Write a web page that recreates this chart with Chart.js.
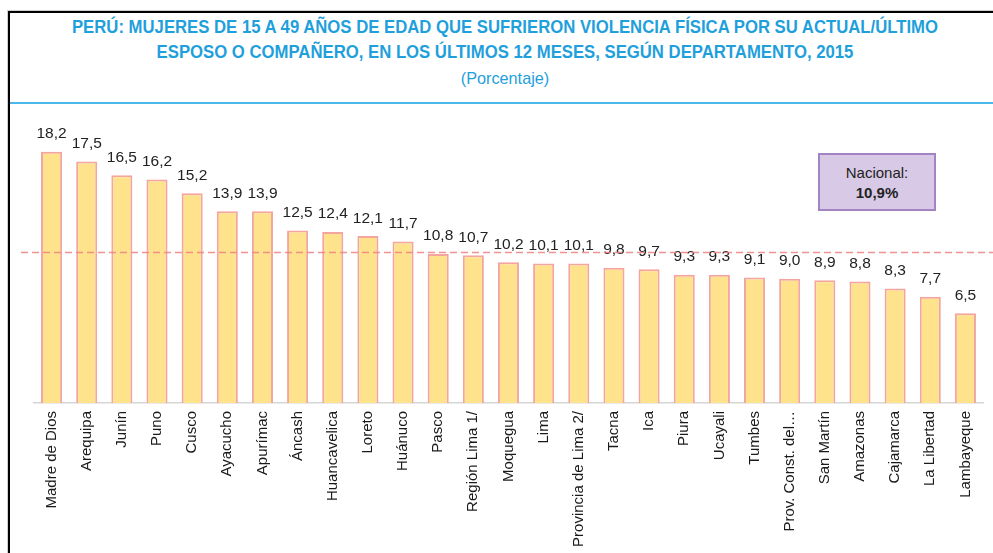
<!DOCTYPE html>
<html lang="es">
<head>
  <meta charset="UTF-8">
  <title>Violencia física por departamento, 2015</title>
  <script src="https://cdn.jsdelivr.net/npm/chart.js"></script>
  <style>
    body {
      margin: 0;
      width: 993px;
      height: 553px;
      overflow: hidden;
      background: #fff;
      position: relative;
      font-family: 'Liberation Sans', Arial, sans-serif;
    }
    .frame {
      position: absolute;
      left: 8px;
      top: 11px;
      width: 1020px;
      height: 600px;
      border-left: 2px solid #000;
      border-top: 2px solid #000;
      box-shadow: -1px -1px 0 #cfcfcf;
    }
    .rule {
      position: absolute;
      left: 10px;
      top: 102px;
      width: 990px;
      height: 2px;
      background: #4cb8ea;
    }
    .title {
      position: absolute;
      left: 0;
      width: 1010px;
      text-align: center;
      color: #1f9fdc;
      transform: scaleX(0.955);
      transform-origin: 505px 0;
      white-space: nowrap;
    }
    .t1 { top: 17px; font-weight: bold; font-size: 17.5px; }
    .t2 { top: 42px; font-weight: bold; font-size: 17.5px; }
    .t3 { top: 69px; font-size: 17px; }
    canvas {
      position: absolute;
      left: 0;
      top: 0;
    }
    .nacional {
      position: absolute;
      left: 818px;
      top: 153px;
      width: 114px;
      height: 46px;
      padding-top: 8px;
      background: #d8c9e6;
      border: 2px solid #a483c2;
      text-align: center;
      font-size: 15px;
      color: #222;
      line-height: 20px;
    }
  </style>
</head>
<body>
  <div class="frame"></div>
  <div class="rule"></div>
  <div class="title t1">PERÚ: MUJERES DE 15 A 49 AÑOS DE EDAD QUE SUFRIERON VIOLENCIA FÍSICA POR SU ACTUAL/ÚLTIMO</div>
  <div class="title t2">ESPOSO O COMPAÑERO, EN LOS ÚLTIMOS 12 MESES, SEGÚN DEPARTAMENTO, 2015</div>
  <div class="title t3">(Porcentaje)</div>

  <canvas id="chart" width="993" height="553"></canvas>

  <div class="nacional">Nacional:<br><b>10,9%</b></div>

  <script>
    const departamentos = [
      'Madre de Dios', 'Arequipa', 'Junín', 'Puno', 'Cusco', 'Ayacucho', 'Apurímac',
      'Áncash', 'Huancavelica', 'Loreto', 'Huánuco', 'Pasco', 'Región Lima 1/',
      'Moquegua', 'Lima', 'Provincia de Lima 2/', 'Tacna', 'Ica', 'Piura', 'Ucayali',
      'Tumbes', 'Prov. Const. del…', 'San Martín', 'Amazonas', 'Cajamarca',
      'La Libertad', 'Lambayeque'
    ];
    const porcentajes = [
      18.2, 17.5, 16.5, 16.2, 15.2, 13.9, 13.9, 12.5, 12.4, 12.1, 11.7, 10.8, 10.7,
      10.2, 10.1, 10.1, 9.8, 9.7, 9.3, 9.3, 9.1, 9.0, 8.9, 8.8, 8.3, 7.7, 6.5
    ];
    const nacional = 10.9;

    const fmt = v => v.toFixed(1).replace('.', ',');

    // etiquetas de valor encima de cada barra
    const valueLabels = {
      id: 'valueLabels',
      afterDatasetsDraw(chart) {
        const ctx = chart.ctx;
        const meta = chart.getDatasetMeta(0);
        ctx.save();
        ctx.font = '15.5px "Liberation Sans", Arial, sans-serif';
        ctx.fillStyle = '#222';
        ctx.textAlign = 'center';
        ctx.textBaseline = 'bottom';
        meta.data.forEach((bar, i) => {
          ctx.fillText(fmt(porcentajes[i]), bar.x, bar.y - 10);
        });
        ctx.restore();
      }
    };

    // línea punteada del promedio nacional
    const nationalLine = {
      id: 'nationalLine',
      afterDatasetsDraw(chart) {
        const ctx = chart.ctx;
        const y = chart.scales.y.getPixelForValue(nacional);
        ctx.save();
        ctx.strokeStyle = 'rgba(238,128,128,0.85)';
        ctx.lineWidth = 1.5;
        ctx.setLineDash([7, 4]);
        ctx.beginPath();
        ctx.moveTo(21, y);
        ctx.lineTo(chart.width, y);
        ctx.stroke();
        ctx.restore();
      }
    };

    new Chart(document.getElementById('chart'), {
      type: 'bar',
      data: {
        labels: departamentos,
        datasets: [{
          data: porcentajes,
          backgroundColor: '#fee38c',
          borderColor: '#f4a5a0',
          borderWidth: 2,
          barPercentage: 0.6,
          categoryPercentage: 1
        }]
      },
      options: {
        responsive: false,
        animation: false,
        layout: { padding: { top: 127, left: 34, right: 10, bottom: 0 } },
        plugins: {
          legend: { display: false },
          tooltip: { enabled: false }
        },
        scales: {
          x: {
            grid: { display: false, drawTicks: false },
            border: { color: '#d6d6d6', width: 1.5 },
            afterFit: s => { s.height = 150; },
            ticks: {
              autoSkip: false,
              minRotation: 90,
              maxRotation: 90,
              padding: 8,
              color: '#1a1a1a',
              font: { family: '"Liberation Sans", Arial, sans-serif', size: 15 }
            }
          },
          y: {
            display: false,
            min: 0,
            max: 20
          }
        }
      },
      plugins: [valueLabels, nationalLine]
    });
  </script>
</body>
</html>
